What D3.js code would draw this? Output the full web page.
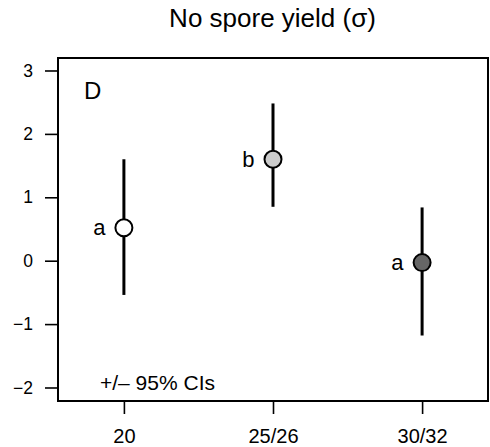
<!DOCTYPE html>
<html>
<head>
<meta charset="utf-8">
<script src="https://cdn.jsdelivr.net/npm/d3@7"></script>
<style>
  html, body { margin: 0; padding: 0; background: #fff; }
  svg { display: block; }
  text { font-family: "Liberation Sans", Arial, Helvetica, sans-serif; fill: #000; }
</style>
</head>
<body>
<svg id="chart" width="490" height="447"></svg>
<script>
// ---- data ----
const categories = ["20", "25/26", "30/32"];
const means = [0.52, 1.60, -0.03];
const ciLower = [-0.54, 0.85, -1.18];
const ciUpper = [1.60, 2.48, 0.84];
const groupLetters = ["a", "b", "a"];
const fills = ["#ffffff", "#cccccc", "#666666"];
const yTicks = [-2, -1, 0, 1, 2, 3];
const title = "No spore yield (\u03c3)";
const panelLabel = "D";
const noteText = "+/\u2013 95% CIs";

// ---- layout ----
const box = { left: 58, right: 488, top: 58, bottom: 401 };

const svg = d3.select("#chart");

const x = d3.scaleLinear().domain([0.558, 3.442]).range([box.left, box.right]);
const y = d3.scaleLinear().domain([-2.213, 3.197]).range([box.bottom, box.top]);

// title
svg.append("text")
  .attr("x", 272.5).attr("y", 27)
  .attr("text-anchor", "middle")
  .style("font-size", "26px")
  .text(title);

// y axis
const yAxis = d3.axisLeft(y).tickValues(yTicks).tickSize(13).tickPadding(12)
  .tickFormat(d => d < 0 ? "\u2212" + Math.abs(d) : String(d));
const gy = svg.append("g").attr("transform", `translate(${box.left},0)`).call(yAxis);
gy.attr("font-size", null).attr("font-family", null);
gy.select(".domain").remove();
gy.selectAll(".tick line").attr("stroke", "#000").attr("stroke-width", 1.6);
gy.selectAll(".tick text").attr("font-size", 17.5).style("font-size", "17.5px").attr("fill", "#000");

// x axis
const xAxis = d3.axisBottom(x).tickValues([1, 2, 3]).tickSize(13).tickPadding(14.5)
  .tickFormat((d, i) => categories[i]);
const gx = svg.append("g").attr("transform", `translate(0,${box.bottom})`).call(xAxis);
gx.attr("font-size", null).attr("font-family", null);
gx.select(".domain").remove();
gx.selectAll(".tick line").attr("stroke", "#000").attr("stroke-width", 1.6);
gx.selectAll(".tick text").attr("font-size", 20).style("font-size", "20px").attr("fill", "#000");

// plot box
svg.append("rect")
  .attr("x", box.left).attr("y", box.top)
  .attr("width", box.right - box.left).attr("height", box.bottom - box.top)
  .attr("fill", "none").attr("stroke", "#000").attr("stroke-width", 2);

// panel label
svg.append("text").attr("x", 84).attr("y", 99)
  .style("font-size", "24px").text(panelLabel);

// note
svg.append("text").attr("x", 100).attr("y", 390)
  .style("font-size", "21px").text(noteText);

// CI lines
const idx = d3.range(categories.length);
svg.append("g").selectAll("line").data(idx).join("line")
  .attr("x1", i => x(i + 1)).attr("x2", i => x(i + 1))
  .attr("y1", i => y(ciLower[i])).attr("y2", i => y(ciUpper[i]))
  .attr("stroke", "#000").attr("stroke-width", 3);

// points
svg.append("g").selectAll("circle").data(idx).join("circle")
  .attr("cx", i => x(i + 1)).attr("cy", i => y(means[i]))
  .attr("r", 8.5)
  .attr("fill", i => fills[i]).attr("stroke", "#000").attr("stroke-width", 2);

// group letters
svg.append("g").selectAll("text").data(idx).join("text")
  .attr("x", i => x(i + 1) - 18.5).attr("y", i => y(means[i]) + 7.3)
  .attr("text-anchor", "end")
  .style("font-size", "22px")
  .text(i => groupLetters[i]);
</script>
</body>
</html>
